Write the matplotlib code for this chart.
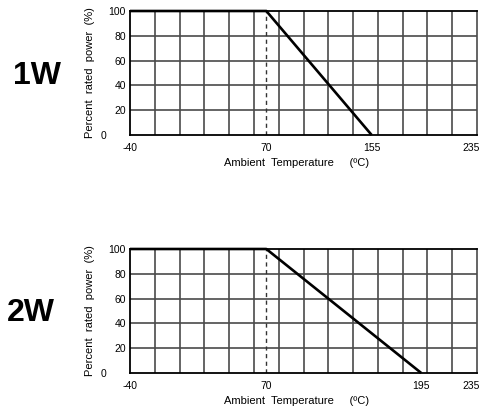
import matplotlib
matplotlib.use("Agg")
import matplotlib.pyplot as plt
import matplotlib.transforms as mtransforms
import numpy as np

plt.rcParams['font.family'] = ['Liberation Sans', 'DejaVu Sans']

# Data
labels = ["1W", "2W"]
curve_x = [[-40, 70, 155], [-40, 70, 195]]
curve_y = [[100, 100, 0], [100, 100, 0]]
knee_temp = 70
xtick_vals = [[-40, 70, 155, 235], [-40, 70, 195, 235]]
ytick_vals = [0, 20, 40, 60, 80, 100]
x_min, x_max, x_step = -40, 240, 20

fig = plt.figure(figsize=(4.8, 4.19), dpi=100)

axes_pos = [
    [130/480, 1-135/419, 347/480, 124/419],
    [130/480, 1-373/419, 347/480, 124/419],
]
label_pos = [(37/480, 1-76/419), (31/480, 1-313/419)]

grid_c = '#4a4a4a'
for i in range(2):
    ax = fig.add_axes(axes_pos[i])
    ax.set_xlim(x_min, x_max)
    ax.set_ylim(0, 100)
    # grid
    for gx in np.arange(x_min + x_step, x_max, x_step):
        ax.axvline(gx, color=grid_c, lw=1.2, zorder=1)
    for gy in ytick_vals[1:-1]:
        ax.axhline(gy, color=grid_c, lw=1.2, zorder=1)
    # dashed knee line
    ax.plot([knee_temp, knee_temp], [0, 100], color='#333333', lw=1.0,
            dashes=(3, 2.5), zorder=2)
    # derating curve
    ax.plot(curve_x[i], curve_y[i], color='black', lw=1.9, zorder=3,
            solid_capstyle='butt', clip_on=False)
    for side in ['left', 'bottom', 'top']:
        ax.spines[side].set_color('black')
        ax.spines[side].set_linewidth(1.3)
    ax.spines['right'].set_color(grid_c)
    ax.spines['right'].set_linewidth(1.2)
    ax.set_xticks(xtick_vals[i])
    ax.set_xticklabels([str(v) for v in xtick_vals[i]])
    ax.set_yticks(ytick_vals)
    ax.set_yticklabels([str(v) for v in ytick_vals])
    ax.tick_params(axis='both', length=0, labelsize=7.5, colors='black')
    ax.tick_params(axis='x', pad=5.5)
    ax.tick_params(axis='y', pad=3)
    # shift "0" label left
    offset = mtransforms.ScaledTranslation(-19/100, 0, fig.dpi_scale_trans)
    ylabs = ax.get_yticklabels()
    ylabs[0].set_transform(ylabs[0].get_transform() + offset)
    ax.set_xlabel("Ambient  Temperature     (ºC)", fontsize=8)
    ax.xaxis.set_label_coords(0.481, -0.185)
    ax.set_ylabel("Percent  rated  power  (%)", fontsize=8)
    ax.yaxis.set_label_coords(-0.101, 0.5)
    fig.text(label_pos[i][0], label_pos[i][1], labels[i], fontsize=23,
             fontweight='bold', ha='center', va='center')

fig.savefig("out.png", dpi=100)
